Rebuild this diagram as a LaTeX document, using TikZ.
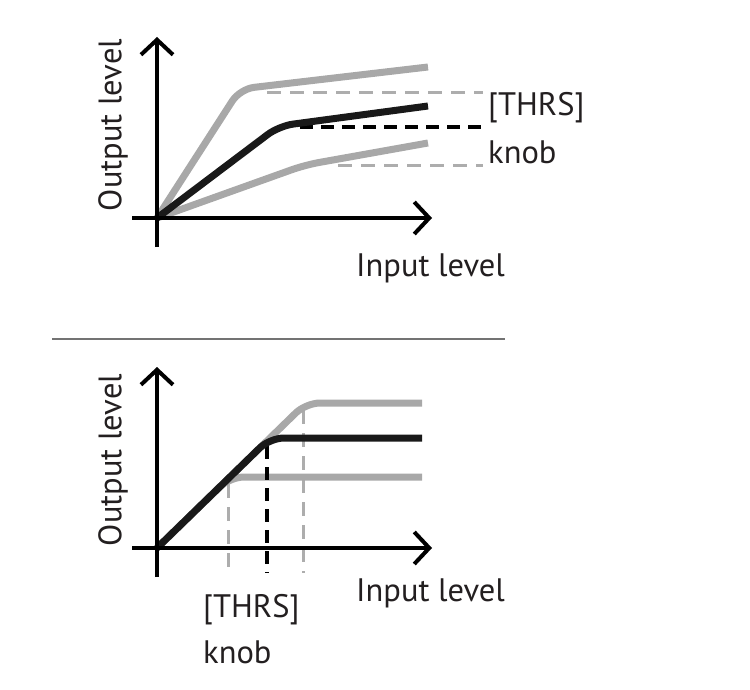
\documentclass[tikz,border=0pt]{standalone}
\usepackage{fontspec}
\setmainfont{PT Sans}
\usetikzlibrary{arrows.meta}
\definecolor{curvegray}{HTML}{A8A8A8}
\definecolor{dashgray}{HTML}{ADADAD}
\definecolor{txt}{HTML}{231F20}
\tikzset{
  axis/.style={line width=4.5pt, black},
  axisarrow/.style={axis, -{Straight Barb[length=15pt, width=32pt, line width=4pt]}},
  graycurve/.style={line width=7pt, curvegray, rounded corners=14pt},
  blackcurve/.style={line width=7pt, black!90, rounded corners=14pt},
  graydash/.style={line width=3pt, dashgray, dash pattern=on 14pt off 9pt},
  blackdash/.style={line width=4pt, black, dash pattern=on 13pt off 8pt},
  label/.style={text=txt, font=\fontsize{32.5}{38}\selectfont, inner sep=0pt},
}
\begin{document}
\begin{tikzpicture}[x=1pt, y=-1pt]
                \useasboundingbox (0,0) rectangle (750,690);
                % top panel
                \coordinate (O1) at (157,218);
                \coordinate (Y1b) at (157,247);
                \coordinate (Y1t) at (157,37);
                \coordinate (X1l) at (132,218);
                \coordinate (X1r) at (432,218);
                \draw[graydash] (267,93) coordinate (U1s) -- (483,93) coordinate (U1e);
                \draw[graydash] (338,166) coordinate (L1s) -- (483,166) coordinate (L1e);
                \draw[graycurve] (O1) -- (240,89) -- (428,67);
                \draw[graycurve] (O1) -- (305,165) -- (428,143);
                \draw[blackdash] (300,127) coordinate (M1s) -- (483,127) coordinate (M1e);
                \draw[blackcurve] (O1) -- (279,126) -- (428,106);
                \draw[axisarrow] (Y1b) -- (Y1t);
                \draw[axisarrow] (X1l) -- (X1r);
                \node[label, rotate=90] (out1) at (113,125) {Output level};
                \node[label, anchor=west] (in1) at (356,268) {Input level};
                \node[label, anchor=west] (thrs1) at (488,108) {[THRS]};
                \node[label, anchor=west] (knob1) at (488,152) {knob};
                % separator
                \draw[line width=1.8pt, black!55] (52,339) -- (505,339);
                % bottom panel
                \coordinate (O2) at (157,548);
                \coordinate (Y2b) at (157,577);
                \coordinate (Y2t) at (157,367);
                \coordinate (X2l) at (132,548);
                \coordinate (X2r) at (432,548);
                \draw[graydash] (228,484) -- (228,573);
                \draw[graydash] (303,410) -- (303,573);
                \draw[graycurve] (O2) -- (306,403) -- (422,403);
                \draw[graycurve] (O2) -- (230,477) -- (422,477);
                \draw[blackdash] (267,446) -- (267,573);
                \draw[blackcurve] (O2) -- (270,438) -- (422,438);
                \draw[axisarrow] (Y2b) -- (Y2t);
                \draw[axisarrow] (X2l) -- (X2r);
                \node[label, rotate=90] (out2) at (113,460) {Output level};
                \node[label, anchor=west] (in2) at (356,593) {Input level};
                \node[label, anchor=west] (thrs2) at (203,610) {[THRS]};
                \node[label, anchor=west] (knob2) at (203,652) {knob};
            \end{tikzpicture}
\end{document}
